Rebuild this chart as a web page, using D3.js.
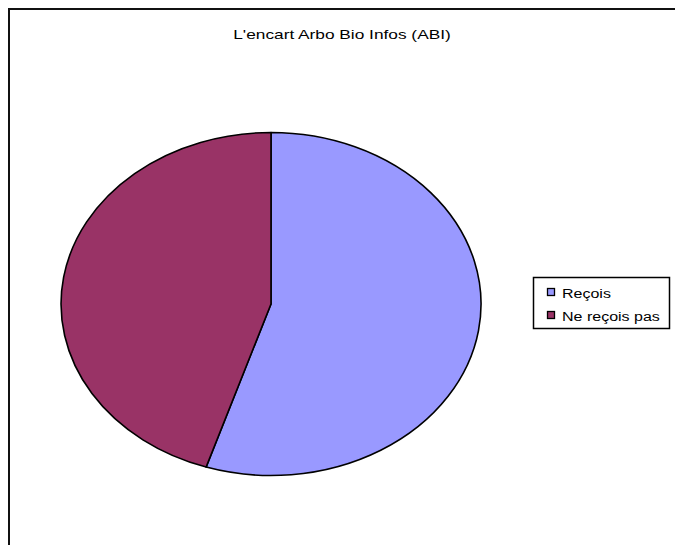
<!DOCTYPE html>
<html><head><meta charset="utf-8">
<script src="https://cdn.jsdelivr.net/npm/d3@7/dist/d3.min.js"></script>
<style>body{margin:0;background:#fff;}svg{display:block;font-family:"Liberation Sans",Arial,sans-serif;}</style>
</head><body>
<script>
const title = "L'encart Arbo Bio Infos (ABI)";
const categories = ["Reçois", "Ne reçois pas"];
const values = [55, 45];
const colors = ["#9999FF", "#993366"];

const W = 675, H = 545;
const svg = d3.select("body").append("svg").attr("width", W).attr("height", H);

// outer border (extends past right/bottom)
svg.append("path").attr("d", "M9,560 L9,9 L700,9").attr("fill", "none").attr("stroke", "#111").attr("stroke-width", 2);

// text in the reference is horizontally stretched (~1.28x)
const stretch = 1.28;
function stretchedText(sel, x, y, anchor, size, str) {
  const t = sel.append("text").attr("x", x).attr("y", y).attr("text-anchor", anchor)
    .attr("font-size", size).attr("fill", "#000").text(str);
  const w = t.node().getComputedTextLength();
  t.attr("textLength", w * stretch).attr("lengthAdjust", "spacingAndGlyphs");
  return t;
}

stretchedText(svg, 342, 39, "middle", 13.5, title);

const data = categories.map((c, i) => ({cat: c, value: values[i], color: colors[i]}));
const pie = d3.pie().value(d => d.value).sort(null);
const arc = d3.arc().innerRadius(0).outerRadius(1);
const cx = 271, cy = 304, rx = 210, ry = 171.5;
const g = svg.append("g").attr("transform", `translate(${cx},${cy}) scale(${rx},${ry})`);
g.selectAll("path").data(pie(data)).join("path")
  .attr("d", arc)
  .attr("fill", d => d.data.color)
  .attr("stroke", "#000")
  .attr("stroke-width", 1.6)
  .attr("vector-effect", "non-scaling-stroke")
  .attr("stroke-linejoin", "round");

// legend
const lg = svg.append("g");
lg.append("rect").attr("x", 533.5).attr("y", 277.5).attr("width", 136).attr("height", 51)
  .attr("fill", "#fff").attr("stroke", "#000").attr("stroke-width", 1.5);
data.forEach((d, i) => {
  const y = 288 + i * 23;
  lg.append("rect").attr("x", 547.5).attr("y", y + 0.5).attr("width", 7).attr("height", 7)
    .attr("fill", d.color).attr("stroke", "#000").attr("stroke-width", 1.3);
  stretchedText(lg, 562, y + 10, "start", 12.5, d.cat);
});
</script>
</body></html>
